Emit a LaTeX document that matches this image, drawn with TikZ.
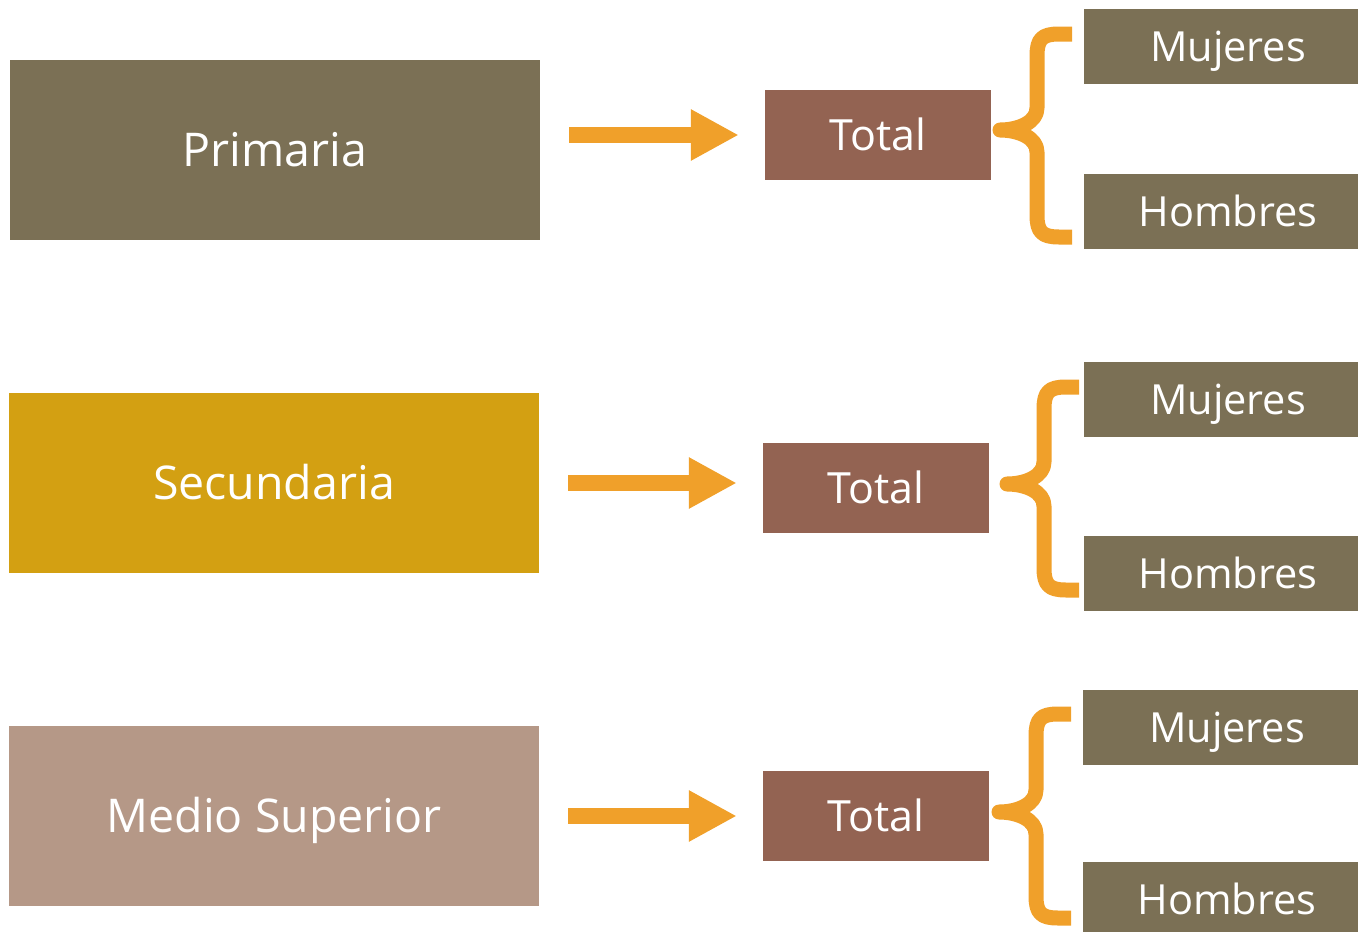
\documentclass[tikz,border=0pt]{standalone}
\usepackage{fontspec}
\setmainfont{Open Sans}
\usetikzlibrary{arrows.meta}
\definecolor{olivo}{HTML}{7B7055}
\definecolor{oro}{HTML}{D3A012}
\definecolor{rosa}{HTML}{B59887}
\definecolor{cafe}{HTML}{936352}
\definecolor{naranja}{HTML}{F0A02A}

\tikzset{
  nivel/.style={fill=#1, text=white, inner sep=0pt, minimum width=530pt, minimum height=180pt,
    font=\fontsize{46.5}{50}\selectfont, text height=33pt, text depth=0pt},
  totalbox/.style={fill=cafe, text=white, inner sep=0pt, minimum width=226pt, minimum height=90pt,
    font=\fontsize{43}{47}\selectfont, text height=31pt, text depth=0pt},
  sexo/.style={fill=olivo, text=white, inner sep=0pt, minimum width=288pt, minimum height=75pt,
    font=\fontsize{41.5}{45}\selectfont, text height=30pt, text depth=0pt},
  flecha/.style={draw=naranja, line width=16pt, shorten <=29pt, shorten >=26pt,
    -{Triangle[length=48pt,width=48pt]}},
  llavestyle/.style={draw=naranja, line width=15pt, line join=round}
}

% curly brace: stem x, top y, tip y, bottom y
\newcommand{\llave}[4]{%
  \draw[llavestyle] (#1+35,#2) -- (#1+22,#2) .. controls (#1+5,#2) and (#1,#2+5) .. (#1,#2+22)
    -- (#1,#3-22) .. controls (#1,#3-8) and (#1-18,#3) .. (#1-37,#3)
    .. controls (#1-18,#3) and (#1,#3+8) .. (#1,#3+22)
    -- (#1,#4-22) .. controls (#1,#4-5) and (#1+5,#4) .. (#1+22,#4) -- (#1+35,#4);}

\begin{document}
\begin{tikzpicture}[x=1pt,y=-1pt]
\useasboundingbox (0,0) rectangle (1358,932);
\clip (0,0) rectangle (1358,932);
% Levels
\node[nivel=olivo] (prim) at (275,150) {Primaria};
\node[nivel=oro] (sec) at (274,483) {Secundaria};
\node[nivel=rosa] (med) at (274,816) {Medio Superior};
% Totals
\node[totalbox] (tot1) at (878,135) {Total};
\node[totalbox] (tot2) at (876,488) {Total};
\node[totalbox] (tot3) at (876,816) {Total};
% Women / men
\node[sexo] (muj1) at (1228,46.5) {Mujeres};
\node[sexo] (hom1) at (1228,211.5) {Hombres};
\node[sexo] (muj2) at (1228,399) {Mujeres};
\node[sexo] (hom2) at (1228,573.5) {Hombres};
\node[sexo] (muj3) at (1227,727.5) {Mujeres};
\node[sexo] (hom3) at (1227,899.5) {Hombres};
% Arrows
\draw[flecha] (prim.east |- tot1.west) -- (tot1.west);
\draw[flecha] (sec.east) -- (sec.east -| tot2.west);
\draw[flecha] (med.east |- tot3.west) -- (tot3.west);
% Braces
\llave{1037}{34}{130}{237}
\llave{1044}{387}{484}{590}
\llave{1036}{714}{812}{918}
\end{tikzpicture}
\end{document}
